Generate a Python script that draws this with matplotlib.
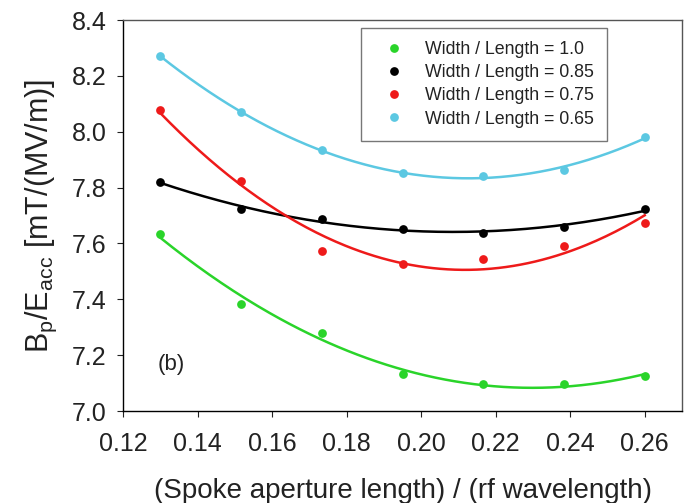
import numpy as np
import matplotlib
matplotlib.use("Agg")
import matplotlib.pyplot as plt

plt.rcParams['font.family'] = ['Liberation Sans', 'DejaVu Sans']
plt.rcParams['mathtext.fontset'] = 'custom'
plt.rcParams['mathtext.rm'] = 'Liberation Sans'

# spoke aperture length / rf wavelength
ratio = [0.130, 0.1517, 0.1733, 0.195, 0.2167, 0.2383, 0.260]

# Bp/Eacc for each width/length
wl_100 = [7.633, 7.383, 7.280, 7.133, 7.097, 7.097, 7.125]
wl_085 = [7.819, 7.723, 7.687, 7.653, 7.636, 7.660, 7.722]
wl_075 = [8.078, 7.824, 7.572, 7.525, 7.544, 7.590, 7.674]
wl_065 = [8.270, 8.070, 7.935, 7.851, 7.843, 7.862, 7.982]

labels = ["Width / Length = 1.0", "Width / Length = 0.85",
          "Width / Length = 0.75", "Width / Length = 0.65"]
colors = ["#2ad42a", "#000000", "#ee1a1a", "#5cc8e2"]

fig = plt.figure(figsize=(6.88, 5.03), dpi=100)
ax = fig.add_axes([0.1788, 0.1829, 0.8125, 0.7773])

xs = np.array(ratio)
xfit = np.linspace(xs.min(), xs.max(), 200)
for ys, lab, clr in zip([wl_100, wl_085, wl_075, wl_065], labels, colors):
    # quadratic fit through each series
    coef = np.polyfit(xs, ys, 2)
    ax.plot(xfit, np.polyval(coef, xfit), color=clr, lw=1.8)
    ax.plot(xs, ys, 'o', color=clr, ms=6.3, mec='none', label=lab)

ax.set_xlim(0.12, 0.27)
ax.set_ylim(7.0, 8.4)
ax.set_xticks(np.arange(0.12, 0.261, 0.02))
ax.set_xticklabels([f"{v:.2f}" for v in np.arange(0.12, 0.261, 0.02)])
ax.set_yticks(np.arange(7.0, 8.41, 0.2))
ax.set_yticklabels([f"{v:.1f}" for v in np.arange(7.0, 8.41, 0.2)])
ax.tick_params(axis='both', direction='out', length=4, labelsize=18, colors='#222222')
ax.tick_params(axis='x', pad=11)
ax.tick_params(axis='y', pad=8)
for s in ['top', 'right']:
    ax.spines[s].set_color('#555555')
for s in ax.spines.values():
    s.set_linewidth(1.0)

ax.set_xlabel("(Spoke aperture length) / (rf wavelength)", fontsize=20, labelpad=16, color='#222222')
ax.set_ylabel(r"B$_\mathregular{p}$/E$_\mathregular{acc}$ [mT/(MV/m)]", fontsize=22,
              labelpad=9, color='#222222')

ax.text(0.1329, 7.168, "(b)", fontsize=16, ha='center', va='center', color='#222222')

leg = ax.legend(loc='upper left', bbox_to_anchor=(0.426, 0.98), fontsize=12.8,
                frameon=True, fancybox=False, edgecolor='#555555', handletextpad=0.65,
                borderpad=0.74, labelspacing=0.35, handlelength=2.2, borderaxespad=0)
leg.get_frame().set_linewidth(1.0)
for t in leg.get_texts():
    t.set_color('#222222')

fig.savefig("out.png", dpi=100)
